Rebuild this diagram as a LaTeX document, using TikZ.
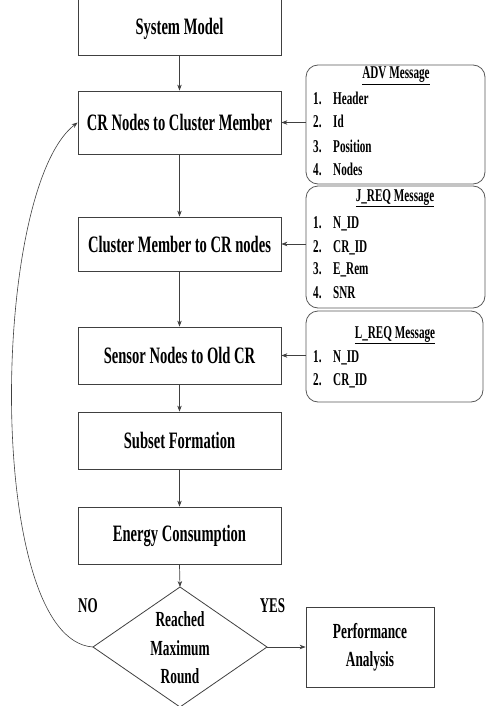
\documentclass[tikz,border=0pt]{standalone}
\usepackage{fontspec}
\setmainfont[FakeStretch=0.62]{Liberation Serif}
\usetikzlibrary{arrows.meta}
\begin{document}
\begin{tikzpicture}[x=1pt,y=-1pt,
  ln/.style={draw=black!75, line width=0.8pt},
  box/.style={ln, minimum width=203pt, inner sep=0pt, font=\fontsize{23.5}{27}\selectfont\bfseries},
  msg/.style={draw=black!65, line width=0.8pt, rounded corners=12pt, inner sep=0pt},
  arr/.style={-{Stealth[length=6pt,width=4.5pt]}, draw=black!75, line width=0.7pt},
  item/.style={anchor=base west, inner sep=0pt, font=\fontsize{18}{21}\selectfont\bfseries},
  ttl/.style={anchor=base, inner sep=0pt, font=\fontsize{18}{21}\selectfont\bfseries},
  lbl/.style={inner sep=0pt, font=\fontsize{21}{25}\selectfont\bfseries}]
\clip (0,0) rectangle (486,706);

% main boxes
\node[box, minimum height=70pt] (sm) at (179.5,20) {};
\node[inner sep=0pt, font=\fontsize{23.5}{27}\selectfont\bfseries] (smt) at (179.5,29) {System Model};
\node[box, minimum height=63pt] (cr) at (179.5,122.5) {CR Nodes to Cluster Member};
\node[box, minimum height=54pt] (cm) at (179.5,244) {Cluster Member to CR nodes};
\node[box, minimum height=57pt] (sn) at (179.5,355.5) {Sensor Nodes to Old CR};
\node[box, minimum height=57pt] (sf) at (179.5,440.5) {Subset Formation};
\node[box, minimum height=57pt] (ec) at (179.5,535.5) {Energy Consumption};

% decision diamond
\coordinate (dt) at (180,587);
\coordinate (dl) at (93,647);
\coordinate (dr) at (267,647);
\coordinate (db) at (180,707);
\draw[ln] (dt) -- (dr) -- (db) -- (dl) -- cycle;
\node[inner sep=0pt, align=center, font=\fontsize{21.5}{28.5}\selectfont\bfseries] (dtext) at (180,648) {Reached\\Maximum\\Round};

% performance
\node[ln, minimum width=128pt, minimum height=80pt, inner sep=0pt, align=center,
      font=\fontsize{21.5}{28}\selectfont\bfseries] (pa) at (370,647) {Performance\\Analysis};

\node[lbl] (no) at (88,606) {NO};
\node[lbl] (yes) at (272.5,606) {YES};

% message boxes
\node[msg, minimum width=179pt, minimum height=119pt] (adv) at (395.5,124.5) {};
\node[msg, minimum width=179pt, minimum height=122pt] (jreq) at (395.5,247) {};
\node[msg, minimum width=177pt, minimum height=91pt] (lreq) at (394.5,356.5) {};

\node[ttl] (advt) at (396,79) {\underline{ADV Message}};
\node[item] (a1) at (313,104.5) {1.};
\node[item] (a1t) at (333,104.5) {Header};
\node[item] (a2) at (313,128) {2.};
\node[item] (a2t) at (333,128) {Id};
\node[item] (a3) at (313,152) {3.};
\node[item] (a3t) at (333,152) {Position};
\node[item] (a4) at (313,175.5) {4.};
\node[item] (a4t) at (333,175.5) {Nodes};

\node[ttl] (jt) at (395,201) {\underline{J\_REQ Message}};
\node[item] (j1) at (313,228.5) {1.};
\node[item] (j1t) at (333,228.5) {N\_ID};
\node[item] (j2) at (313,252.5) {2.};
\node[item] (j2t) at (333,252.5) {CR\_ID};
\node[item] (j3) at (313,274.5) {3.};
\node[item] (j3t) at (333,274.5) {E\_Rem};
\node[item] (j4) at (313,298.5) {4.};
\node[item] (j4t) at (333,298.5) {SNR};

\node[ttl] (lt) at (395,338) {\underline{L\_REQ Message}};
\node[item] (l1) at (313,362) {1.};
\node[item] (l1t) at (333,362) {N\_ID};
\node[item] (l2) at (313,385) {2.};
\node[item] (l2t) at (333,385) {CR\_ID};

% connectors
\draw[arr] (sm.south) -- (cr.north);
\draw[arr] (cr.south) -- (cm.north);
\draw[arr] (cm.south) -- (sn.north);
\draw[arr] (sn.south) -- (sf.north);
\draw[arr] (sf.south) -- (ec.north);
\draw[arr] (ec.south) -- (dt);
\draw[arr] (dr) -- (pa.west);
\draw[arr] (cr.east -| adv.west) -- (cr.east);
\draw[arr] (cm.east -| jreq.west) -- (cm.east);
\draw[arr] (sn.east -| lreq.west) -- (sn.east);
\draw[arr, line width=0.6pt] (dl) .. controls (-15,640) and (-10,190) .. (cr.west);
\end{tikzpicture}
\end{document}
